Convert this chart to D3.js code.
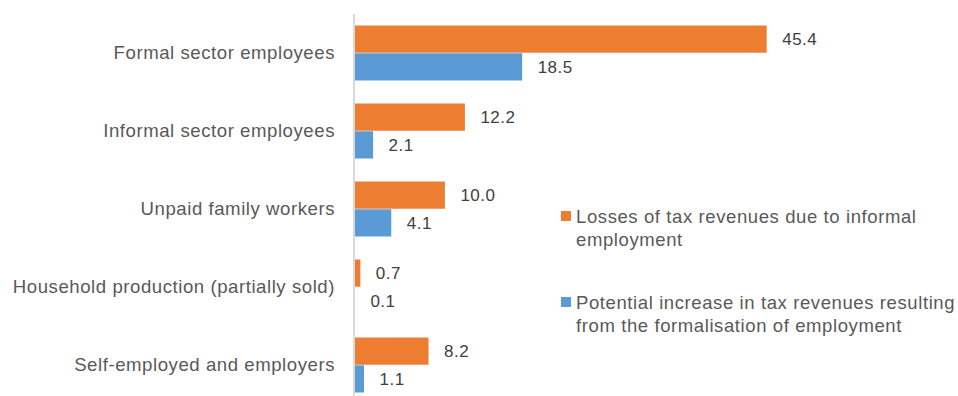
<!DOCTYPE html>
<html>
<head>
<meta charset="utf-8">
<script src="https://cdn.jsdelivr.net/npm/d3@7"></script>
<style>
  html, body { margin: 0; padding: 0; background: #fff; }
  svg { display: block; font-family: "Liberation Sans", Arial, sans-serif; }
</style>
</head>
<body>
<svg id="chart" width="958" height="396"></svg>
<script>
// Tax revenue effects by employment category
const categories = [
  "Formal sector employees",
  "Informal sector employees",
  "Unpaid family workers",
  "Household production (partially sold)",
  "Self-employed and employers"
];
const lossesValues = [45.4, 12.2, 10.0, 0.7, 8.2];
const potentialValues = [18.5, 2.1, 4.1, 0.1, 1.1];
const seriesNames = [
  ["Losses of tax revenues due to informal", "employment"],
  ["Potential increase in tax revenues resulting", "from the formalisation of employment"]
];
const seriesColors = ["#ed7d31", "#5b9bd5"];

const svg = d3.select("#chart");

const x = d3.scaleLinear().domain([0, 50]).range([354, 808.5]);
const y = d3.scaleBand().domain(categories).range([14, 404]).paddingInner(0.295).paddingOuter(0.1475);
const ySub = d3.scaleBand().domain([0, 1]).range([0, y.bandwidth()]).paddingInner(0.02);

const rows = categories.map((c, i) => ({ cat: c, vals: [lossesValues[i], potentialValues[i]] }));

const groups = svg.selectAll("g.cat").data(rows).join("g")
  .attr("class", "cat")
  .attr("transform", d => `translate(0,${y(d.cat)})`);

groups.selectAll("rect").data(d => d.vals).join("rect")
  .attr("x", x(0))
  .attr("y", (d, i) => ySub(i))
  .attr("width", d => x(d) - x(0))
  .attr("height", ySub.bandwidth())
  .attr("fill", (d, i) => seriesColors[i]);

groups.selectAll("text.val").data(d => d.vals).join("text")
  .attr("class", "val")
  .attr("x", d => x(d) + 15.5)
  .attr("y", (d, i) => ySub(i) + ySub.bandwidth() / 2)
  .attr("dy", "0.35em")
  .attr("font-size", 17)
  .attr("letter-spacing", 0.5)
  .attr("fill", "#404040")
  .text(d => d3.format(".1f")(d));

// category axis
const axis = d3.axisLeft(y).tickSize(0).tickPadding(19);
const gAxis = svg.append("g").attr("transform", `translate(${x(0)},0)`).call(axis);
gAxis.select(".domain").attr("d", `M0,14V404`).attr("stroke", "#d9d9d9").attr("stroke-width", 2);
gAxis.selectAll("text")
  .attr("font-size", 18.6)
  .attr("letter-spacing", 0.55)
  .attr("fill", "#595959")
  .attr("font-family", "Liberation Sans, Arial, sans-serif");

// legend
const legendY = [211, 297];
const leg = svg.selectAll("g.leg").data(seriesNames).join("g")
  .attr("class", "leg")
  .attr("transform", (d, i) => `translate(561,${legendY[i]})`);
leg.append("rect").attr("width", 10).attr("height", 10)
  .attr("fill", (d, i) => seriesColors[i]);
leg.append("text")
  .attr("font-size", 18.5)
  .attr("letter-spacing", 0.6)
  .attr("fill", "#595959")
  .selectAll("tspan").data(d => d).join("tspan")
  .attr("x", 15)
  .attr("y", (d, i) => 12 + i * 23)
  .text(d => d);
</script>
</body>
</html>
